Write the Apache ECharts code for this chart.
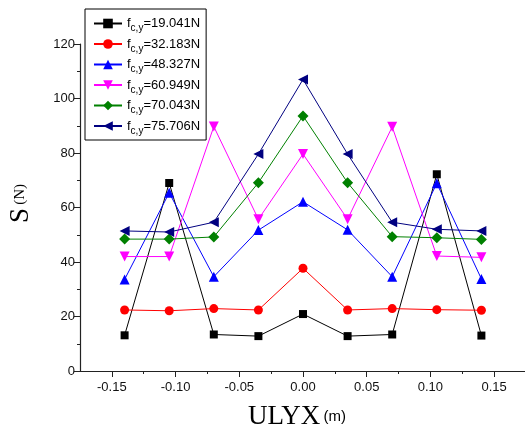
<!DOCTYPE html>
<html>
<head>
<meta charset="utf-8">
<script src="https://cdn.jsdelivr.net/npm/echarts@6/dist/echarts.min.js"></script>
<style>
  html, body { margin: 0; padding: 0; background: #fff; }
  #chart { width: 525px; height: 430px; }
</style>
</head>
<body>
<div id="chart"></div>
<script>
// positions along ULYX (m)
const xValues = [-0.14, -0.105, -0.07, -0.035, 0, 0.035, 0.07, 0.105, 0.14];
// f_c,y values used as legend names
const forceNames = ['19.041N', '32.183N', '48.327N', '60.949N', '70.043N', '75.706N'];
// S (N) for each force
const s19 = [13.1, 69, 13.4, 12.8, 20.9, 12.8, 13.4, 72.2, 13];
const s32 = [22.4, 22.1, 22.9, 22.4, 37.7, 22.4, 22.9, 22.5, 22.3];
const s48 = [33.6, 65.4, 34.6, 51.7, 62.1, 51.8, 34.6, 68.9, 33.8];
const s60 = [42, 42, 89.7, 55.7, 79.6, 55.7, 89.6, 42.2, 41.7];
const s70 = [48.4, 48.4, 49.2, 69.1, 93.6, 69.1, 49.3, 48.9, 48.3];
const s75 = [51.4, 51, 54.6, 79.6, 107, 79.6, 54.6, 52, 51.4];
const xMajorTicks = [-0.15, -0.10, -0.05, 0, 0.05, 0.10, 0.15];
const xMinorTicks = [-0.125, -0.075, -0.025, 0.025, 0.075, 0.125];

const styles = [
  { color: '#000000', symbol: 'rect', size: 8, rotate: 0 },
  { color: '#ff0000', symbol: 'circle', size: 9, rotate: 0 },
  { color: '#0000ff', symbol: 'triangle', size: 10, rotate: 0 },
  { color: '#ff00ff', symbol: 'triangle', size: 10, rotate: 180 },
  { color: '#008000', symbol: 'diamond', size: 11, rotate: 0 },
  { color: '#000080', symbol: 'triangle', size: 10, rotate: 90 }
];
const allData = [s19, s32, s48, s60, s70, s75];

let myChart = echarts.init(document.getElementById('chart'));

let series = allData.map(function (vals, i) {
  return {
    name: forceNames[i],
    type: 'line',
    data: xValues.map(function (x, j) { return [x, vals[j]]; }),
    symbol: styles[i].symbol,
    symbolSize: styles[i].size,
    symbolRotate: styles[i].rotate,
    itemStyle: { color: styles[i].color },
    lineStyle: { color: styles[i].color, width: 1 },
    animation: false
  };
});

let option = {
  animation: false,
  grid: { left: 80, right: -1, top: 44, bottom: 59, outerBoundsMode: 'none' },
  legend: {
    orient: 'vertical',
    left: 85,
    top: 9,
    data: forceNames,
    itemWidth: 28,
    itemHeight: 12,
    itemGap: 4,
    padding: [8, 6, 4, 8],
    backgroundColor: '#fff',
    borderColor: '#000',
    borderWidth: 1,
    formatter: function (name) {
      return '{a|f}{b|c,y}{a|=' + name + '}';
    },
    textStyle: {
      rich: {
        a: { fontFamily: 'Liberation Sans, Arial', fontSize: 13, color: '#000' },
        b: { fontFamily: 'Liberation Sans, Arial', fontSize: 10, color: '#000', padding: [10, 0, 0, 0] }
      }
    }
  },
  xAxis: [
    {
      type: 'value',
      min: -0.175,
      max: 0.175,
      name: '{big|ULYX} {small|(m)}',
      nameLocation: 'middle',
      nameGap: 32,
      nameTextStyle: {
        padding: [0, 12, 0, 0],
        rich: {
          big: { fontFamily: 'Liberation Serif, Times New Roman', fontSize: 27, color: '#000' },
          small: { fontFamily: 'Liberation Sans, Arial', fontSize: 15, color: '#000' }
        }
      },
      axisLine: { onZero: false, lineStyle: { color: '#222', width: 1.2 } },
      axisTick: { length: 6, customValues: xMajorTicks, lineStyle: { color: '#222' } },
      axisLabel: {
        customValues: xMajorTicks,
        formatter: function (v) { return v.toFixed(2); },
        fontFamily: 'Liberation Sans, Arial',
        fontSize: 13,
        color: '#111',
        margin: 10
      },
      splitLine: { show: false }
    },
    {
      type: 'value',
      min: -0.175,
      max: 0.175,
      position: 'bottom',
      axisLine: { show: false, onZero: false },
      axisTick: { length: 3, customValues: xMinorTicks, lineStyle: { color: '#222' } },
      axisLabel: { show: false },
      splitLine: { show: false }
    }
  ],
  yAxis: {
    type: 'value',
    min: 0,
    max: 120,
    interval: 20,
    name: '{big|S} {small|(N)}',
    nameLocation: 'middle',
    nameGap: 46,
    nameTextStyle: {
      padding: [0, 0, 0, 8],
      rich: {
        big: { fontFamily: 'Liberation Serif, Times New Roman', fontSize: 27, color: '#000' },
        small: { fontFamily: 'Liberation Serif, Times New Roman', fontSize: 15, color: '#000' }
      }
    },
    axisLine: { show: true, onZero: false, lineStyle: { color: '#222', width: 1.2 } },
    axisTick: { show: true, length: 6, lineStyle: { color: '#222' } },
    minorTick: { show: true, splitNumber: 2, length: 3, lineStyle: { color: '#222' } },
    axisLabel: {
      fontFamily: 'Liberation Sans, Arial',
      fontSize: 13,
      color: '#111',
      margin: 5
    },
    splitLine: { show: false }
  },
  series: series
};

window.onresize = myChart.resize;
myChart.setOption(option);
</script>
</body>
</html>
